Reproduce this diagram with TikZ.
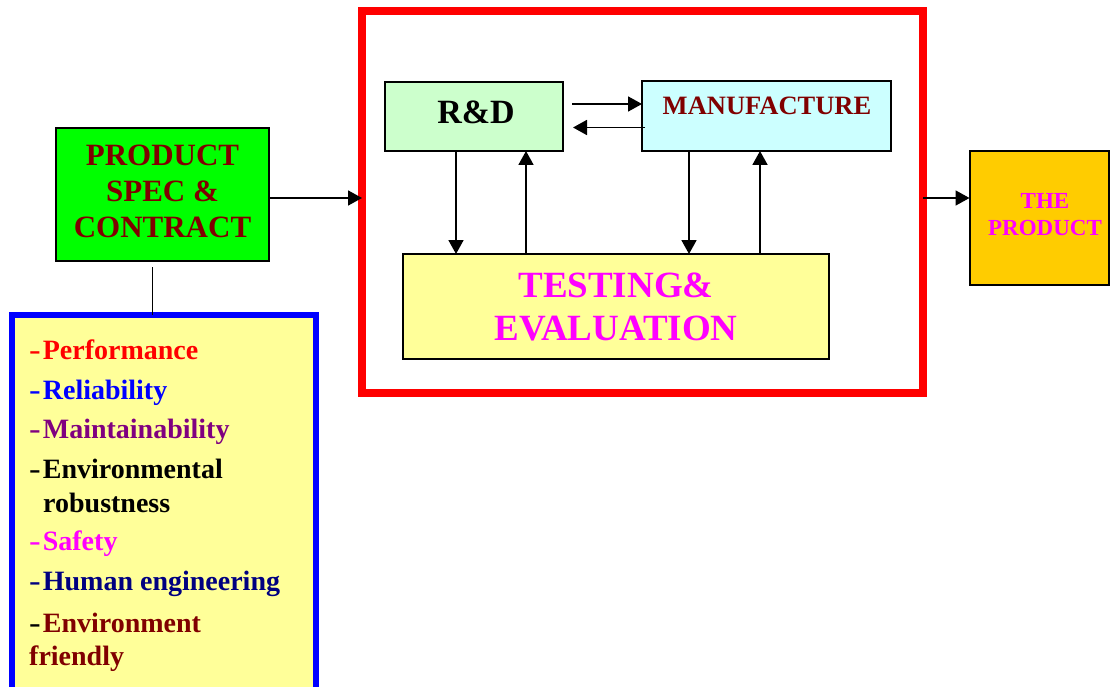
\documentclass[tikz,border=0pt]{standalone}
\usepackage{fontspec}
\setmainfont{Liberation Serif}
\usetikzlibrary{arrows.meta}

\definecolor{specgreen}{HTML}{00FF00}
\definecolor{maroon}{HTML}{800000}
\definecolor{paleyellow}{HTML}{FFFF99}
\definecolor{palegreen}{HTML}{CCFFCC}
\definecolor{palecyan}{HTML}{CCFFFF}
\definecolor{gold}{HTML}{FFCC00}
\definecolor{purp}{HTML}{800080}
\definecolor{navy}{HTML}{000080}
\definecolor{pink}{HTML}{FF00FF}
\definecolor{pureblue}{HTML}{0000FF}
\definecolor{purered}{HTML}{FF0000}

\tikzset{
  block/.style={draw=black, line width=2pt, inner sep=0pt, outer sep=0pt, align=center, font=\bfseries},
  frame/.style={inner sep=0pt, outer sep=0pt},
  arr/.style={line width=1.8pt, -{Triangle[length=14pt,width=15pt]}},
  item/.style={anchor=base west, inner sep=0pt, font=\fontsize{28}{33}\selectfont\bfseries}
}
% list dash: a slightly stretched hyphen followed by a small gap
\newcommand{\bullethyph}{\scalebox{1.25}[1]{-}\kern2pt}

\begin{document}
\begin{tikzpicture}[x=1pt,y=-1pt]
\useasboundingbox (0,0) rectangle (1110,687);
\clip (0,0) rectangle (1110,687);

% input block
\node[block, fill=specgreen, text=maroon, minimum width=213pt, minimum height=133pt,
      font=\fontsize{31}{36}\selectfont\bfseries] (spec) at (162.5,194.5)
      {PRODUCT\\SPEC \&\\CONTRACT\rule[-6pt]{0pt}{0pt}};

% requirement list
\node[frame, draw=pureblue, line width=5.5pt, fill=paleyellow, anchor=north west,
      minimum width=304pt, minimum height=400pt] (req) at (12,315) {};
\node[item, text=purered] (l1) at (29,359) {\bullethyph Performance};
\node[item, text=pureblue](l2) at (29,399) {\bullethyph Reliability};
\node[item, text=purp]    (l3) at (29,438) {\bullethyph Maintainability};
\node[item, text=black]   (l4) at (29,478) {\bullethyph Environmental};
\node[item, text=black]   (l5) at (43,512) {robustness};
\node[item, text=pink]    (l6) at (29,550) {\bullethyph Safety};
\node[item, text=navy]    (l7) at (29,590) {\bullethyph Human engineering};
\node[item, text=maroon]  (l8) at (29,632) {\textcolor{black}{\bullethyph}Environment};
\node[item, text=maroon]  (l9) at (29,665) {friendly};

% development system
\node[frame, draw=purered, line width=8pt, minimum width=561pt, minimum height=382pt] (sys) at (642.5,202) {};

\node[block, fill=palegreen, minimum width=178pt, minimum height=69pt] (rd) at (474,116.5) {};
\node[inner sep=0pt, font=\fontsize{34}{40}\selectfont\bfseries] (rdtext) at (476,112) {R\&D};

\node[block, fill=palecyan, minimum width=249pt, minimum height=70pt] (mf) at (766.5,116) {};
\node[inner sep=0pt, text=maroon, font=\fontsize{26.5}{30}\selectfont\bfseries] (mftext) at (767,106) {MANUFACTURE};

\node[block, fill=paleyellow, text=pink, minimum width=426pt, minimum height=105pt,
      font=\fontsize{37}{43}\selectfont\bfseries] (te) at (616,306.5)
      {TESTING\&\\EVALUATION};

% output block
\node[block, fill=gold, minimum width=139pt, minimum height=134pt] (prod) at (1039,218) {};
\node[inner sep=0pt, align=center, text=pink, font=\fontsize{23}{27}\selectfont\bfseries]
      (prodtext) at (1045,215) {THE\\PRODUCT};

% connectors
\draw[line width=1.5pt] ([xshift=-10pt,yshift=-6pt]spec.south) -- ([xshift=-10pt]spec.south |- req.north);
\draw[arr] ([yshift=-3.5pt]spec.east) -- ([yshift=-3.5pt]spec.east -| sys.west);
\draw[arr] ([yshift=4pt]sys.east) -- ([yshift=4pt]sys.east -| prod.west);

\draw[arr] ([xshift=9pt,yshift=12.5pt]rd.east) -- ([yshift=12.5pt]rd.east -| mf.west);
\draw[arr] ([xshift=3pt,yshift=-11.5pt]mf.west) -- ([xshift=10pt,yshift=-11.5pt]mf.west -| rd.east);

\draw[arr] ([xshift=-18pt]rd.south) -- ([xshift=-18pt]rd.south |- te.north);
\draw[arr] ([xshift=52pt]rd.south |- te.north) -- ([xshift=52pt]rd.south);
\draw[arr] ([xshift=-77.5pt]mf.south) -- ([xshift=-77.5pt]mf.south |- te.north);
\draw[arr] ([xshift=-6.5pt]mf.south |- te.north) -- ([xshift=-6.5pt]mf.south);
\end{tikzpicture}
\end{document}
